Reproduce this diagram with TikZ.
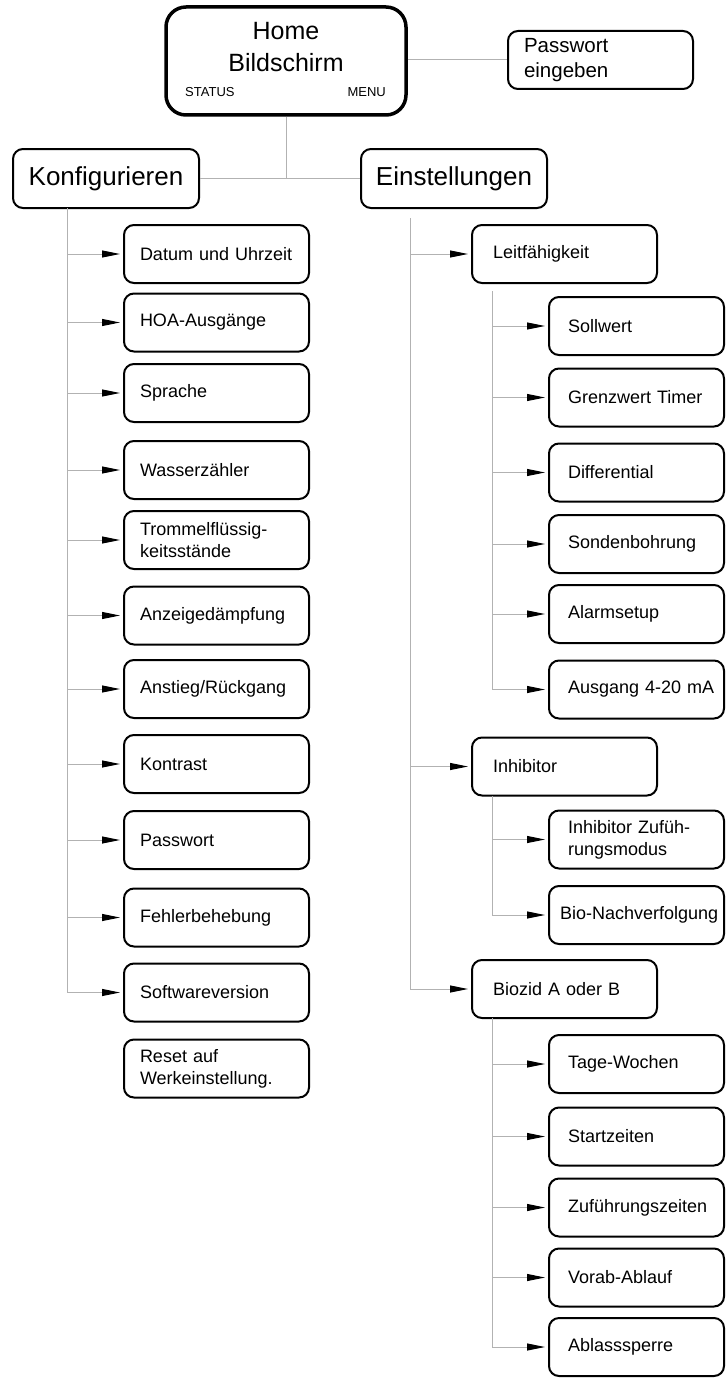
\documentclass[tikz,border=0pt]{standalone}
\usepackage{fontspec}
\setmainfont{Liberation Sans}
\usetikzlibrary{arrows.meta}

\newcommand{\boxfont}{\fontsize{18}{22}\selectfont}
\newcommand{\headfont}{\fontsize{26}{30}\selectfont}
\newcommand{\homefont}{\fontsize{25}{32}\selectfont}
\newcommand{\pwfont}{\fontsize{20.5}{25}\selectfont}
\newcommand{\statusfont}{\fontsize{13}{15}\selectfont}

\begin{document}
\begin{tikzpicture}
  [x=1pt,y=-1pt,every node/.style={font=\boxfont}]
 \tikzset{BoxStyle/.style={draw,line width=2pt,rounded corners=10pt,fill=white,
     minimum height=58pt,align=left,inner xsep=16pt,text width=153pt},
   MidStyle/.style={BoxStyle,execute at begin node={\leftskip=5pt}},
   SubStyle/.style={BoxStyle,inner xsep=6pt,text width=163pt,
     execute at begin node={\leftskip=13pt}},
   HeadStyle/.style={draw,line width=2pt,rounded corners=10pt,
     minimum width=186pt,minimum height=59pt,font=\headfont},
   HomeStyle/.style={draw,line width=3.5pt,rounded corners=20pt,
     minimum width=240pt,minimum height=108pt},
   LineStyle/.style={draw=black!30,line width=1pt},
   ArrowStyle/.style={LineStyle,-{Triangle[length=18pt,width=7pt,color=black]},shorten >=3pt}}
 \useasboundingbox (0,0) rectangle (726,1378);

 % top
 \node[HomeStyle] (home) at (286,61) {};
 \node[font=\homefont,align=center,inner sep=0pt] (hometitle) at (286,47) {Home\\Bildschirm};
 \node[font=\statusfont,anchor=base west,inner sep=0pt] (status) at (185,97) {STATUS};
 \node[font=\statusfont,anchor=base east,inner sep=0pt] (menu) at (386,97) {MENU};
 \node[BoxStyle,font=\pwfont] (pw) at (600.5,60) {Passwort\\eingeben};
 \node[HeadStyle] (konf) at (106,178.5) {Konfigurieren};
 \node[HeadStyle] (einst) at (454,178.5) {Einstellungen};

 % Konfigurieren
 \node[BoxStyle] (k1) at (216.5,254) {Datum und Uhrzeit};
 \node[BoxStyle] (k2) at (216.5,322.5) {HOA-Ausgänge};
 \node[BoxStyle] (k3) at (216.5,393) {Sprache};
 \node[BoxStyle] (k4) at (216.5,470) {Wasserzähler};
 \node[BoxStyle] (k5) at (216.5,540) {Trommelflüssig-\\keitsstände};
 \node[BoxStyle] (k6) at (216.5,615.5) {Anzeigedämpfung};
 \node[BoxStyle] (k7) at (216.5,689) {Anstieg/Rückgang};
 \node[BoxStyle] (k8) at (216.5,764) {Kontrast};
 \node[BoxStyle] (k9) at (216.5,840) {Passwort};
 \node[BoxStyle] (k10) at (216.5,917.5) {Fehlerbehebung};
 \node[BoxStyle] (k11) at (216.5,992.5) {Softwareversion};
 \node[BoxStyle] (k12) at (216.5,1068.5) {Reset auf\\Werkeinstellung.};

 % Einstellungen
 \node[MidStyle] (e1) at (564.5,254) {Leitfähigkeit};
 \node[MidStyle] (e2) at (564.5,766.5) {Inhibitor};
 \node[MidStyle] (e3) at (564.5,989) {Biozid A oder B};

 \node[SubStyle] (l1) at (636.5,326) {Sollwert};
 \node[SubStyle] (l2) at (636.5,397.5) {Grenzwert Timer};
 \node[SubStyle] (l3) at (636.5,472.5) {Differential};
 \node[SubStyle] (l4) at (636.5,544) {Sondenbohrung};
 \node[SubStyle] (l5) at (636.5,614) {Alarmsetup};
 \node[SubStyle] (l6) at (636.5,689.5) {Ausgang 4-20~mA};

 \node[SubStyle] (i1) at (636.5,839.5) {Inhibitor Zufüh-\\rungsmodus};
 \node[SubStyle,execute at begin node={\leftskip=5pt}] (i2) at (636.5,915) {\mbox{Bio-Nachverfolgung}};

 \node[SubStyle] (b1) at (636.5,1064) {Tage-Wochen};
 \node[SubStyle] (b2) at (636.5,1136.5) {Startzeiten};
 \node[SubStyle] (b3) at (636.5,1207.5) {Zuführungszeiten};
 \node[SubStyle] (b4) at (636.5,1277.5) {Vorab-Ablauf};
 \node[SubStyle] (b5) at (636.5,1347) {Ablasssperre};

 \coordinate (kt) at (67,208);
 \coordinate (et) at (410,218);
 \coordinate (lt) at (492,291);
 \coordinate (it) at (492,796);
 \coordinate (bt) at (492,1018);

 \draw[LineStyle] (home) -- (home |- konf);
 \draw[LineStyle] (konf) -- (einst);
 \draw[LineStyle] (home.east |- pw) -- (pw);

 \foreach \from/\to in {kt/k1,kt/k2,kt/k3,kt/k4,kt/k5,kt/k6,kt/k7,kt/k8,kt/k9,kt/k10,kt/k11,
     et/e1,et/e2,et/e3,lt/l1,lt/l2,lt/l3,lt/l4,lt/l5,lt/l6,it/i1,it/i2,
     bt/b1,bt/b2,bt/b3,bt/b4,bt/b5}
    \draw[ArrowStyle] (\from) |- (\to.west);

\end{tikzpicture}
\end{document}
